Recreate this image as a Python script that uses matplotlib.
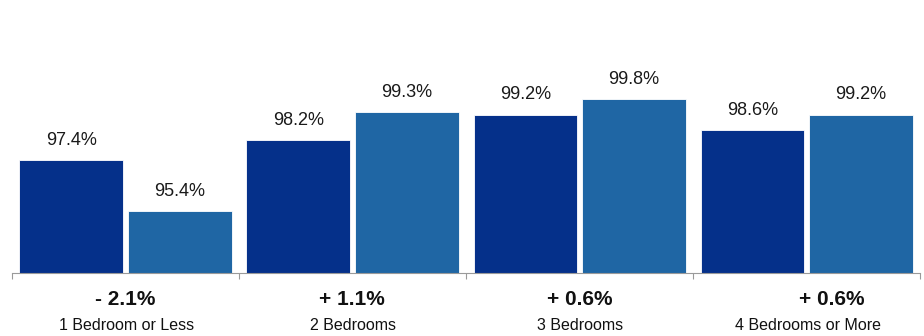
import matplotlib.pyplot as plt
import numpy as np

plt.rcParams['font.family'] = ['Liberation Sans', 'DejaVu Sans']

categories = ["1 Bedroom or Less", "2 Bedrooms", "3 Bedrooms", "4 Bedrooms or More"]
prior = [97.4, 98.2, 99.2, 98.6]
current = [95.4, 99.3, 99.8, 99.2]
changes = ["- 2.1%", "+ 1.1%", "+ 0.6%", "+ 0.6%"]

dark = "#05308a"
mid = "#1f66a4"

fig = plt.figure(figsize=(9.24, 3.36), dpi=100)
ax = fig.add_axes([11.7 / 924, 63.5 / 336, 908.3 / 924, 272.5 / 336])

x = np.arange(len(categories))
w = 0.456
b1 = ax.bar(x - 0.238, prior, width=w, color=dark, edgecolor="white", linewidth=0.6)
b2 = ax.bar(x + 0.240, current, width=w, color=mid, edgecolor="white", linewidth=0.6)

base = 92.98
for bars, vals in [(b1, prior), (b2, current)]:
    for r, v in zip(bars, vals):
        r.set_y(base)
        r.set_height(v - base)
        ax.annotate(f"{v:.1f}%", (r.get_x() + r.get_width() / 2, v),
                    xytext=(0, 8), textcoords="offset points",
                    ha="center", va="bottom", fontsize=13, color="#1a1a1a")

ax.set_xlim(-0.5, 3.5)
ax.set_ylim(base, base + 272.5 / 25.4)

for s in ["top", "right", "left"]:
    ax.spines[s].set_visible(False)
ax.spines["bottom"].set_color("#9a9a9a")
ax.spines["bottom"].set_linewidth(0.8)
ax.set_yticks([])
ax.set_xticks(np.arange(-0.5, 4, 1))
ax.set_xticklabels([])
ax.tick_params(axis="x", direction="out", length=4, color="#9a9a9a", width=0.8)

# change and category labels under each group
shift = [0, 0, 0, 0.11]
for i in range(len(categories)):
    ax.text(i + shift[i], -0.1, changes[i], transform=ax.get_xaxis_transform(),
            ha="center", va="center", fontsize=15, fontweight="bold", color="#111111")
    ax.text(i + 0.005, -0.196, categories[i], transform=ax.get_xaxis_transform(),
            ha="center", va="center", fontsize=11.5, color="#111111")

fig.savefig("out.png", dpi=100)
